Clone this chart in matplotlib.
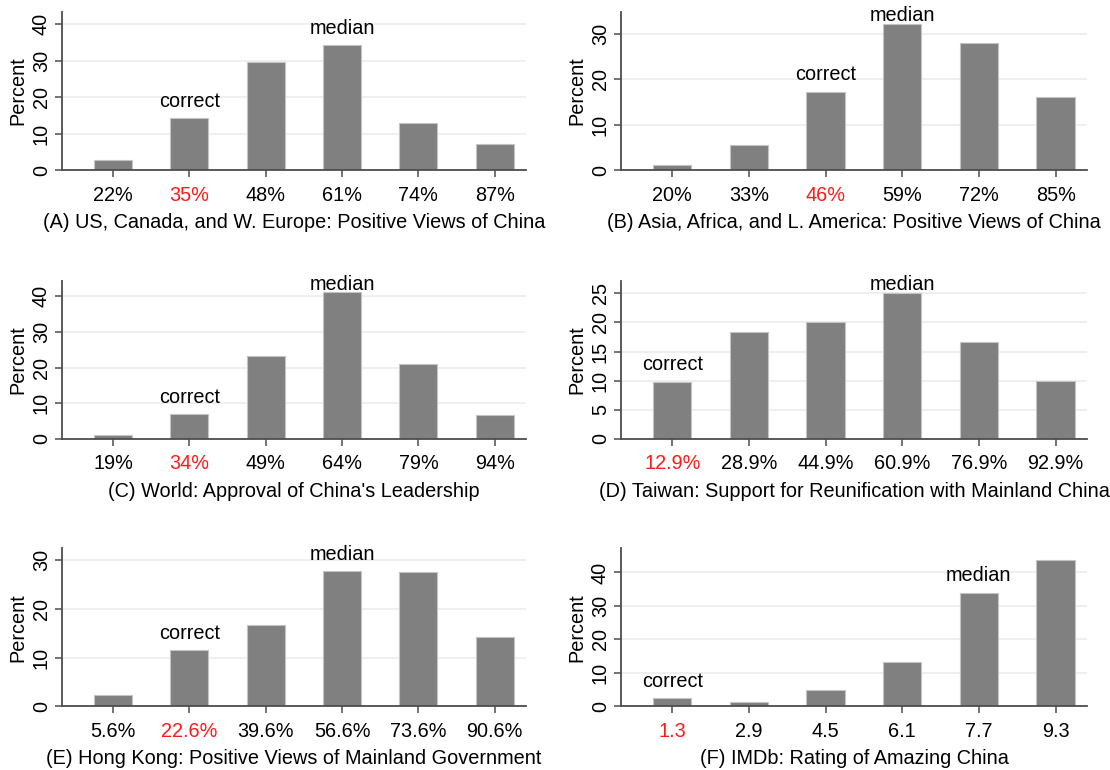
#!/usr/bin/env python3

import numpy
import matplotlib.pyplot as plt

plt.rcParams['font.family'] = ['Liberation Sans', 'DejaVu Sans']
plt.rcParams['font.size'] = 14.3

# bin labels, percent per bin, and which bins are "correct" / "median"
labels_a = ['22%', '35%', '48%', '61%', '74%', '87%']
values_a = [2.7, 14.2, 29.5, 34.2, 12.9, 7.2]
title_a = '(A) US, Canada, and W. Europe: Positive Views of China'

labels_b = ['20%', '33%', '46%', '59%', '72%', '85%']
values_b = [1.2, 5.6, 17.2, 32.1, 28.0, 16.1]
title_b = '(B) Asia, Africa, and L. America: Positive Views of China'

labels_c = ['19%', '34%', '49%', '64%', '79%', '94%']
values_c = [1.1, 6.9, 23.3, 41.1, 21.0, 6.6]
title_c = "(C) World: Approval of China's Leadership"

labels_d = ['12.9%', '28.9%', '44.9%', '60.9%', '76.9%', '92.9%']
values_d = [9.8, 18.3, 20.0, 25.1, 16.6, 10.0]
title_d = '(D) Taiwan: Support for Reunification with Mainland China'

labels_e = ['5.6%', '22.6%', '39.6%', '56.6%', '73.6%', '90.6%']
values_e = [2.3, 11.5, 16.7, 27.7, 27.5, 14.3]
title_e = '(E) Hong Kong: Positive Views of Mainland Government'

labels_f = ['1.3', '2.9', '4.5', '6.1', '7.7', '9.3']
values_f = [2.4, 1.4, 4.9, 13.3, 34.0, 43.7]
title_f = '(F) IMDb: Rating of Amazing China'

correct_idx = [1, 2, 1, 0, 1, 0]
median_idx = [3, 3, 3, 3, 3, 4]
ytop = [43.3, 34.75, 44.4, 27.2, 32.5, 47.3]
ystep = [10, 10, 10, 5, 10, 10]

AXIS = '#4d4d4d'


def panel(ax, labels, values, title, icorr, imed, top, step):
    x = numpy.arange(len(values))
    ax.bar(x, values, width=0.5, color='#808080', edgecolor='#c4c4c4',
           linewidth=0.8, zorder=2)
    ax.set_xlim(-0.667, len(values) - 1 + 0.41)
    ax.set_ylim(0, top)
    ax.set_yticks(numpy.arange(0, top, step))
    ax.yaxis.grid(True, color='#ebebeb', linewidth=1.1, zorder=0)
    ax.set_axisbelow(True)

    ax.set_xticks(x)
    ax.set_xticklabels(labels)
    ax.get_xticklabels()[icorr].set_color('#ff1a1a')
    ax.tick_params(axis='x', length=5, width=1.1, color=AXIS, pad=6)
    ax.tick_params(axis='y', length=5, width=1.1, color=AXIS, pad=3,
                   labelrotation=90)
    for t in ax.get_yticklabels():
        t.set_va('center')

    for s in ('top', 'right'):
        ax.spines[s].set_visible(False)
    for s in ('left', 'bottom'):
        ax.spines[s].set_color(AXIS)
        ax.spines[s].set_linewidth(1.3)

    ax.set_ylabel('Percent', labelpad=3)
    ax.set_xlabel(title, labelpad=6)

    # text sits ~17px above the bar, but stays inside the plot area
    h = ax.get_position().height * ax.figure.get_figheight() * ax.figure.dpi
    unit = top / h
    for i, word in ((icorr, 'correct'), (imed, 'median')):
        y = min(values[i] + 17 * unit, top - 4 * unit)
        ax.text(x[i], y, word, ha='center', va='center', zorder=3)


fig = plt.figure(figsize=(11.1, 7.7), dpi=100)

lefts = [0.0559, 0.5595]
widths = [0.418, 0.4198]
bottoms = [0.7788, 0.4299, 0.0825]
height = 0.2058

panels = [(labels_a, values_a, title_a), (labels_b, values_b, title_b),
          (labels_c, values_c, title_c), (labels_d, values_d, title_d),
          (labels_e, values_e, title_e), (labels_f, values_f, title_f)]

for k, (labels, values, title) in enumerate(panels):
    row, col = divmod(k, 2)
    ax = fig.add_axes([lefts[col], bottoms[row], widths[col], height])
    panel(ax, labels, values, title, correct_idx[k], median_idx[k],
          ytop[k], ystep[k])

fig.savefig('out.png', dpi=100)
